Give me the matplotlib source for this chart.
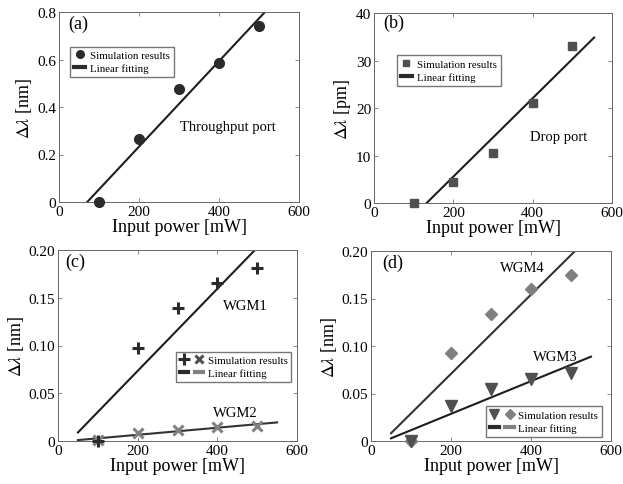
import numpy as np
import matplotlib
matplotlib.use("Agg")
import matplotlib.pyplot as plt
from matplotlib.lines import Line2D
from matplotlib.legend_handler import HandlerTuple

plt.rcParams['font.family'] = ['Liberation Serif', 'DejaVu Serif']
plt.rcParams['mathtext.fontset'] = 'stix'

# input power (mW)
power = [100, 200, 300, 400, 500]

# (a) throughput port shift (nm)
thru_nm = [0.0, 0.265, 0.475, 0.585, 0.74]
# (b) drop port shift (pm)
drop_pm = [0.0, 4.5, 10.5, 21.0, 33.0]
# (c) WGM1 / WGM2 shift (nm)
wgm1_nm = [0.0, 0.097, 0.139, 0.165, 0.181]
wgm2_nm = [0.001, 0.008, 0.011, 0.015, 0.016]
# (d) WGM3 / WGM4 shift (nm)
wgm3_nm = [0.0, 0.037, 0.055, 0.065, 0.072]
wgm4_nm = [0.0, 0.093, 0.134, 0.160, 0.175]

xticks = [0, 200, 400, 600]
yticks_a = [0, 0.2, 0.4, 0.6, 0.8]
ylabels_a = ['0', '0.2', '0.4', '0.6', '0.8']
yticks_b = [0, 10, 20, 30, 40]
yticks_cd = [0, 0.05, 0.10, 0.15, 0.20]
ylabels_cd = ['0', '0.05', '0.10', '0.15', '0.20']

W, H = 623, 485
fig = plt.figure(figsize=(W / 100, H / 100), dpi=100)


def make_ax(x0, x1, y0, y1):
    return fig.add_axes([x0 / W, 1 - y1 / H, (x1 - x0) / W, (y1 - y0) / H])


ax_a = make_ax(59, 299, 13, 203)
ax_b = make_ax(374, 612, 14, 204)
ax_c = make_ax(58, 297, 251, 442)
ax_d = make_ax(371, 611, 252, 442)

dark = '#2b2b2b'
mid = '#505050'
light = '#808080'
line_c = '#1e1e1e'
leg_fs = 7.8


def fit_line(ax, x, y, x0, x1, color=line_c):
    p = np.polyfit(x, y, 1)
    xx = np.array([x0, x1])
    ax.plot(xx, np.polyval(p, xx), color=color, lw=1.5, zorder=2)


def style(ax, yt, ylab, ylim, yname):
    ax.set_xlim(0, 600)
    ax.set_ylim(*ylim)
    ax.set_xticks(xticks)
    ax.set_yticks(yt)
    if ylab is not None:
        ax.set_yticklabels(ylab)
    ax.tick_params(direction='in', top=True, right=True, labelsize=11,
                   length=3, width=0.6, color='#777', pad=2)
    for s in ax.spines.values():
        s.set_color('#666')
        s.set_linewidth(0.7)
    ax.set_xlabel('Input power [mW]', fontsize=13, labelpad=0)
    ax.set_ylabel(yname, fontsize=13, labelpad=2)


# (a)
ax = ax_a
fit_line(ax, power, thru_nm, 50, 550)
ax.plot(power, thru_nm, 'o', color=dark, ms=7, zorder=3, clip_on=False)
style(ax, yticks_a, ylabels_a, (0, 0.8), r'$\Delta\lambda$ [nm]')
ax.text(0.04, 0.94, '(a)', transform=ax.transAxes, fontsize=13, va='center')
ax.text(302, 0.316, 'Throughput port', fontsize=10.5, va='center')
h1 = Line2D([], [], marker='o', ls='none', color=dark, ms=5.5)
h2 = Line2D([], [], color=dark, lw=3)
ax.legend([h1, h2], ['Simulation results', 'Linear fitting'],
          loc='upper left', bbox_to_anchor=(0.025, 0.845), fontsize=leg_fs,
          frameon=True, fancybox=False, edgecolor='#555', handlelength=1.0,
          handletextpad=0.5, borderpad=0.35, labelspacing=0.3)

# (b)
ax = ax_b
fit_line(ax, power, drop_pm, 50, 555)
ax.plot(power, drop_pm, 's', color=mid, ms=6, zorder=3, clip_on=False)
style(ax, yticks_b, None, (0, 40), r'$\Delta\lambda$ [pm]')
ax.text(0.04, 0.95, '(b)', transform=ax.transAxes, fontsize=13, va='center')
ax.text(393, 14.1, 'Drop port', fontsize=10.5, va='center')
h1 = Line2D([], [], marker='s', ls='none', color=mid, ms=4.5)
h2 = Line2D([], [], color=dark, lw=3)
ax.legend([h1, h2], ['Simulation results', 'Linear fitting'],
          loc='upper left', bbox_to_anchor=(0.075, 0.805), fontsize=leg_fs,
          frameon=True, fancybox=False, edgecolor='#555', handlelength=1.0,
          handletextpad=0.5, borderpad=0.35, labelspacing=0.3)

# (c)
ax = ax_c
fit_line(ax, power, wgm1_nm, 50, 550)
fit_line(ax, power, wgm2_nm, 50, 550, color='#333')
ax.plot(power, wgm2_nm, 'x', color=light, ms=7, mew=2.2, zorder=3, clip_on=False)
ax.plot(power, wgm1_nm, '+', color=dark, ms=9, mew=2.2, zorder=4, clip_on=False)
style(ax, yticks_cd, ylabels_cd, (0, 0.2), r'$\Delta\lambda$ [nm]')
ax.text(0.03, 0.94, '(c)', transform=ax.transAxes, fontsize=13, va='center')
ax.text(414, 0.142, 'WGM1', fontsize=10.5, va='center')
ax.text(389, 0.030, 'WGM2', fontsize=10.5, va='center')
hp = Line2D([], [], marker='+', ls='none', color=dark, ms=8, mew=2.2)
hx = Line2D([], [], marker='x', ls='none', color=mid, ms=6, mew=2.2)
hl1 = Line2D([], [], color=dark, lw=3)
hl2 = Line2D([], [], color=light, lw=3)
ax.legend([(hp, hx), (hl1, hl2)], ['Simulation results', 'Linear fitting'],
          handler_map={tuple: HandlerTuple(ndivide=None, pad=0.6)},
          loc='upper left', bbox_to_anchor=(0.47, 0.495), fontsize=leg_fs,
          frameon=True, fancybox=False, edgecolor='#555', handlelength=2.2,
          handletextpad=0.4, borderpad=0.35, labelspacing=0.3)

# (d)
ax = ax_d
fit_line(ax, power, wgm4_nm, 50, 550, color='#333')
fit_line(ax, power, wgm3_nm, 50, 550)
ax.plot(power, wgm4_nm, 'D', color=light, ms=6.5, zorder=3, clip_on=False)
ax.plot(power, wgm3_nm, 'v', color=mid, ms=8, zorder=4, clip_on=False)
style(ax, yticks_cd, ylabels_cd, (0, 0.2), r'$\Delta\lambda$ [nm]')
ax.text(0.045, 0.94, '(d)', transform=ax.transAxes, fontsize=13, va='center')
ax.text(322, 0.183, 'WGM4', fontsize=10.5, va='center')
ax.text(405, 0.089, 'WGM3', fontsize=10.5, va='center')
hv = Line2D([], [], marker='v', ls='none', color=mid, ms=6.5)
hd = Line2D([], [], marker='D', ls='none', color=light, ms=5)
hl1 = Line2D([], [], color=dark, lw=3)
hl2 = Line2D([], [], color=light, lw=3)
ax.legend([(hv, hd), (hl1, hl2)], ['Simulation results', 'Linear fitting'],
          handler_map={tuple: HandlerTuple(ndivide=None, pad=0.6)},
          loc='lower right', bbox_to_anchor=(0.985, -0.005), fontsize=leg_fs,
          frameon=True, fancybox=False, edgecolor='#555', handlelength=2.2,
          handletextpad=0.4, borderpad=0.35, labelspacing=0.3)

fig.savefig('out.png', dpi=100)
